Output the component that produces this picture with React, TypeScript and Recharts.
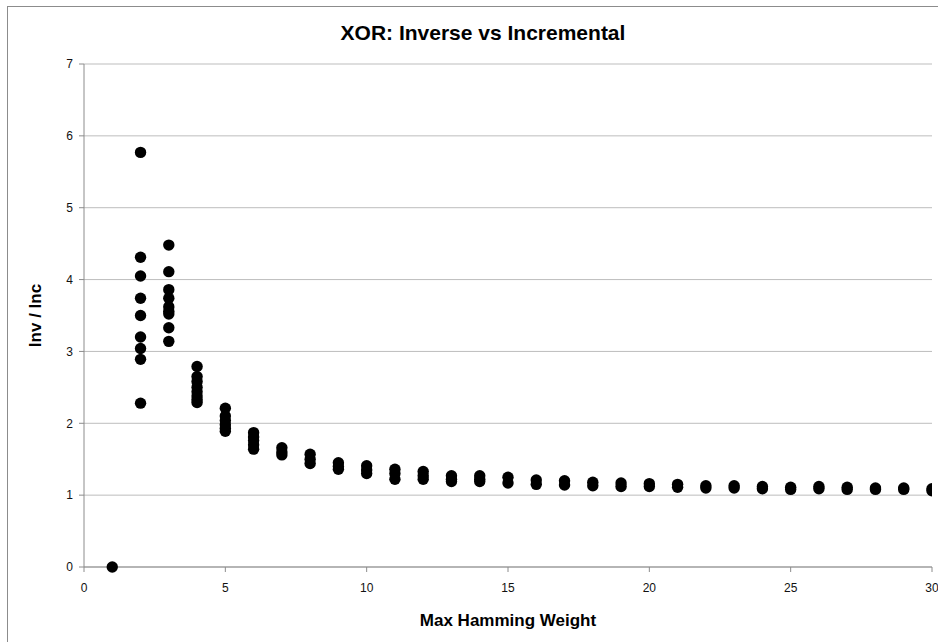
import { ScatterChart, Scatter, XAxis, YAxis, CartesianGrid } from 'recharts';

// Max Hamming weight groups
const weights = [
  1, 2, 3, 4, 5, 6, 7, 8, 9, 10, 11, 12, 13, 14, 15,
  16, 17, 18, 19, 20, 21, 22, 23, 24, 25, 26, 27, 28, 29, 30,
];

// Inv / Inc ratios observed for each weight (same order as weights)
const ratios: number[][] = [
  [0],
  [5.77, 4.31, 4.05, 3.74, 3.5, 3.2, 3.04, 2.89, 2.28],
  [4.48, 4.11, 3.86, 3.74, 3.62, 3.56, 3.52, 3.33, 3.14],
  [2.79, 2.65, 2.58, 2.5, 2.44, 2.38, 2.33, 2.29],
  [2.21, 2.1, 2.04, 1.98, 1.93, 1.89],
  [1.87, 1.81, 1.76, 1.7, 1.64],
  [1.66, 1.6, 1.56],
  [1.57, 1.5, 1.44],
  [1.45, 1.4, 1.36],
  [1.41, 1.35, 1.3],
  [1.36, 1.3, 1.22],
  [1.33, 1.27, 1.22],
  [1.27, 1.22, 1.19],
  [1.27, 1.22, 1.19],
  [1.25, 1.17],
  [1.21, 1.15],
  [1.2, 1.14],
  [1.18, 1.13],
  [1.17, 1.12],
  [1.16, 1.12],
  [1.15, 1.11],
  [1.13, 1.1],
  [1.13, 1.1],
  [1.12, 1.09],
  [1.11, 1.08],
  [1.12, 1.09],
  [1.11, 1.08],
  [1.1, 1.08],
  [1.1, 1.08],
  [1.09, 1.06],
];

const xTicks = [0, 5, 10, 15, 20, 25, 30];
const yTicks = [0, 1, 2, 3, 4, 5, 6, 7];

const FONT = '"Liberation Sans", Arial, sans-serif';

export default function App() {
  const points = weights.flatMap((w, i) => ratios[i].map((r) => ({ weight: w, ratio: r })));

  return (
    <div style={{ position: 'absolute', left: 0, top: 0, width: 938, height: 642, overflow: 'hidden', background: '#fff', fontFamily: FONT }}>
      {/* chart frame, cut off at right and bottom */}
      <div style={{ position: 'absolute', left: 7, top: 6, width: 960, height: 680, border: '1px solid #8c8c8c' }} />

      <div style={{ position: 'absolute', left: 0, top: 21, width: 966, textAlign: 'center', fontSize: 21, fontWeight: 'bold', color: '#000' }}>
        XOR: Inverse vs Incremental
      </div>

      <div style={{ position: 'absolute', left: 0, top: 0 }}>
        <ScatterChart width={938} height={642} margin={{ top: 64, right: 6, bottom: 0, left: 0 }}>
          <CartesianGrid horizontal vertical={false} stroke="#bdbdbd" strokeWidth={1} />
          <XAxis
            type="number"
            dataKey="weight"
            domain={[0, 30]}
            ticks={xTicks}
            allowDataOverflow
            height={75}
            stroke="#8c8c8c"
            tickSize={5}
            tickMargin={11}
            tick={{ fill: '#111', fontSize: 12, fontFamily: FONT }}
            label={{
              content: (props: any) => {
                const vb = props.viewBox;
                const cx = vb.x + vb.width / 2;
                return (
                  <text x={cx} y={620} textAnchor="middle" dominantBaseline="central" fontSize={17} fontWeight="bold" fontFamily={FONT} fill="#000">
                    Max Hamming Weight
                  </text>
                );
              },
            }}
          />
          <YAxis
            type="number"
            dataKey="ratio"
            domain={[0, 7]}
            ticks={yTicks}
            width={84}
            stroke="#8c8c8c"
            tickSize={5}
            tickMargin={6}
            tick={{ fill: '#111', fontSize: 12, fontFamily: FONT }}
            label={{
              content: (props: any) => {
                const vb = props.viewBox;
                const cy = vb.y + vb.height / 2;
                return (
                  <text x={35} y={cy} transform={`rotate(-90 35 ${cy})`} textAnchor="middle" dominantBaseline="central" fontSize={17} fontWeight="bold" fontFamily={FONT} fill="#000">
                    Inv / Inc
                  </text>
                );
              },
            }}
          />
          <Scatter
            data={points}
            isAnimationActive={false}
            shape={(p: any) => <circle cx={p.cx} cy={p.cy} r={5.7} fill="#000" />}
          />
        </ScatterChart>
      </div>
    </div>
  );
}
